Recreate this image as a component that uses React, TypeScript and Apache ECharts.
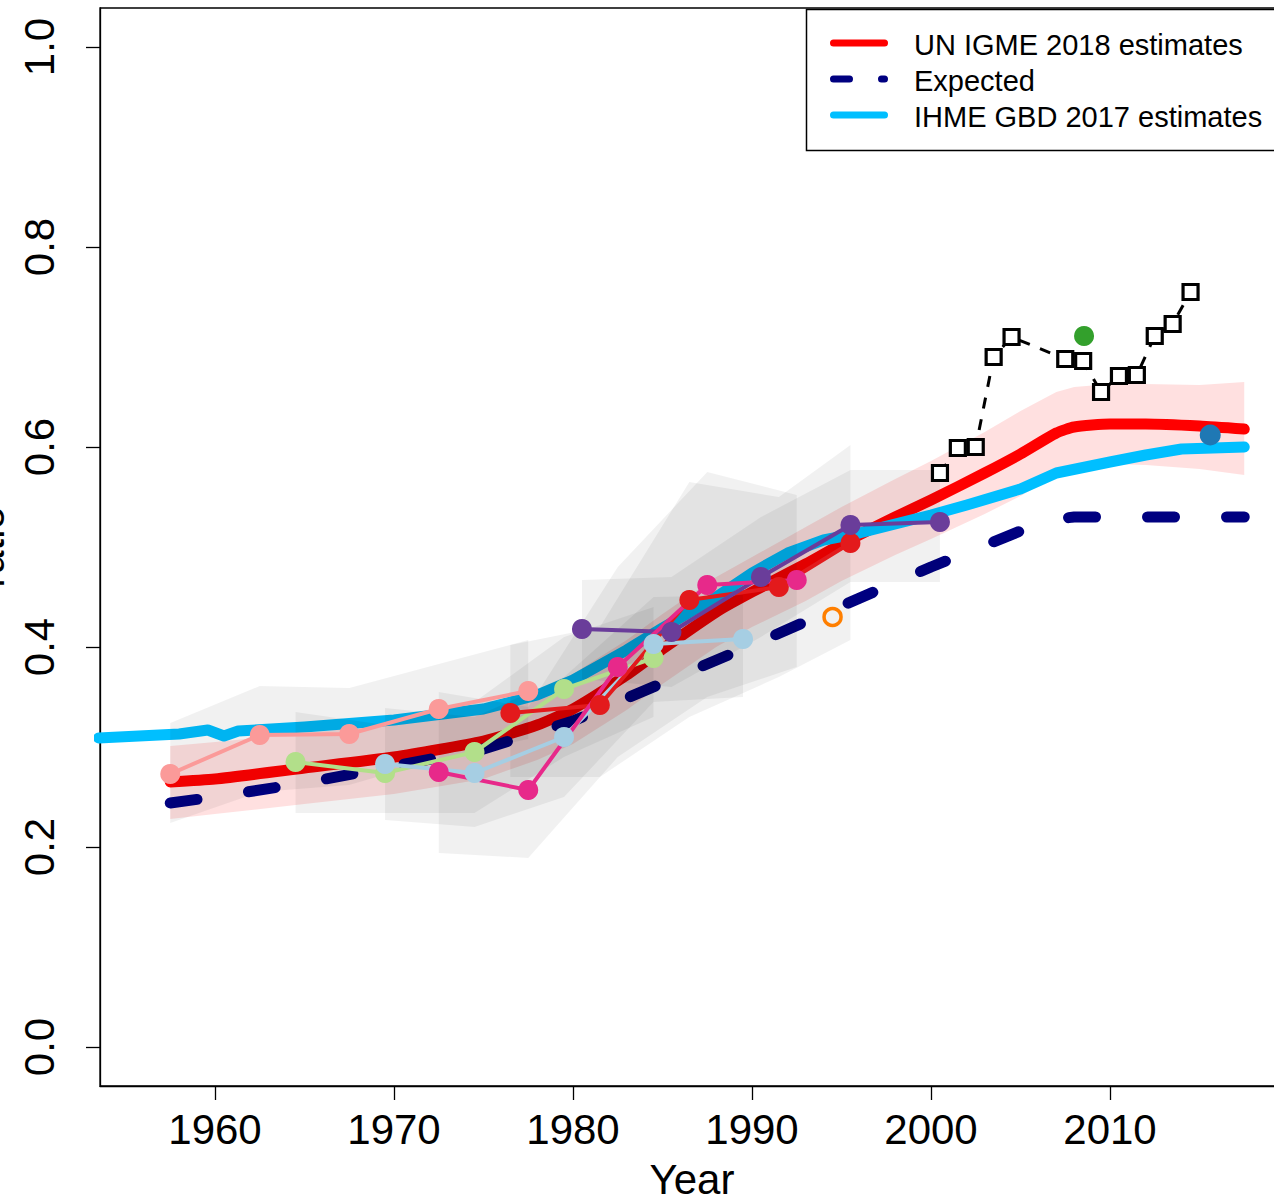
import React, { useEffect, useRef } from 'react';
import * as echarts from 'echarts';

const FONT = '"Liberation Sans", Arial, Helvetica, sans-serif';

// ---- Axis ticks ----
const xTicks = [1960, 1970, 1980, 1990, 2000, 2010];
const yTicks = [0, 0.2, 0.4, 0.6, 0.8, 1.0];

// ---- UN IGME 2018 estimates (with uncertainty band) ----
const igmeYears = [1957.5, 1960, 1965, 1970, 1975, 1978, 1980, 1983, 1985, 1988, 1990, 1993, 1995, 1998, 2000, 2003, 2005, 2007, 2008, 2010, 2012, 2015, 2017.5];
const igmeValues = [0.265, 0.268, 0.279, 0.290, 0.306, 0.322, 0.338, 0.372, 0.398, 0.435, 0.455, 0.483, 0.503, 0.530, 0.547, 0.574, 0.593, 0.614, 0.620, 0.623, 0.623, 0.621, 0.618];
const igmeUpper = [0.301, 0.305, 0.314, 0.323, 0.338, 0.357, 0.373, 0.407, 0.433, 0.470, 0.490, 0.520, 0.540, 0.568, 0.586, 0.615, 0.636, 0.655, 0.660, 0.663, 0.663, 0.662, 0.665];
const igmeLower = [0.228, 0.233, 0.243, 0.253, 0.268, 0.287, 0.303, 0.337, 0.363, 0.400, 0.420, 0.446, 0.466, 0.492, 0.508, 0.533, 0.551, 0.572, 0.579, 0.583, 0.582, 0.578, 0.572];

// ---- Expected ----
const expectedYears = [1957.5, 1960, 1965, 1970, 1975, 1980, 1985, 1990, 1995, 2000, 2005, 2007, 2008, 2017.5];
const expectedValues = [0.244, 0.250, 0.264, 0.281, 0.298, 0.326, 0.364, 0.402, 0.441, 0.480, 0.516, 0.528, 0.530, 0.530];

// ---- IHME GBD 2017 estimates ----
const ihmeYears = [1953.5, 1958, 1959.6, 1960.5, 1961.3, 1965, 1970, 1975, 1978, 1980, 1983, 1985, 1988, 1990, 1992, 1994, 1996, 2000, 2002, 2005, 2007, 2010, 2012, 2014, 2017.5];
const ihmeValues = [0.309, 0.313, 0.317, 0.311, 0.316, 0.320, 0.327, 0.338, 0.352, 0.367, 0.397, 0.419, 0.450, 0.474, 0.494, 0.507, 0.514, 0.532, 0.542, 0.558, 0.574, 0.585, 0.592, 0.598, 0.600];

// ---- Data sources (points + uncertainty polygons) ----
const salmonYears = [1957.5, 1962.5, 1967.5, 1972.5, 1977.5];
const salmonValues = [0.273, 0.312, 0.313, 0.338, 0.356];
const salmonUpper = [0.324, 0.361, 0.359, 0.383, 0.407];
const salmonLower = [0.224, 0.255, 0.262, 0.288, 0.308];

const greenYears = [1964.5, 1969.5, 1974.5, 1979.5, 1984.5];
const greenValues = [0.285, 0.274, 0.295, 0.358, 0.389];
const greenUpper = [0.335, 0.322, 0.345, 0.410, 0.440];
const greenLower = [0.234, 0.234, 0.234, 0.290, 0.330];

const lightBlueYears = [1969.5, 1974.5, 1979.5, 1984.5, 1989.5];
const lightBlueValues = [0.283, 0.274, 0.310, 0.403, 0.408];
const lightBlueUpper = [0.339, 0.330, 0.370, 0.450, 0.452];
const lightBlueLower = [0.227, 0.220, 0.250, 0.345, 0.350];

const magentaYears = [1972.5, 1977.5, 1982.5, 1987.5, 1992.5];
const magentaValues = [0.275, 0.257, 0.380, 0.462, 0.467];
const magentaUpper = [0.355, 0.340, 0.480, 0.575, 0.552];
const magentaLower = [0.194, 0.189, 0.290, 0.350, 0.380];

const redYears = [1976.5, 1981.5, 1986.5, 1991.5, 1995.5];
const redValues = [0.334, 0.342, 0.447, 0.460, 0.504];
const redUpper = [0.402, 0.420, 0.565, 0.550, 0.602];
const redLower = [0.270, 0.270, 0.330, 0.370, 0.407];

const purpleYears = [1980.5, 1985.5, 1990.5, 1995.5, 2000.5];
const purpleValues = [0.418, 0.415, 0.470, 0.522, 0.525];
const purpleUpper = [0.467, 0.470, 0.530, 0.577, 0.577];
const purpleLower = [0.368, 0.360, 0.410, 0.465, 0.465];

const vrYears = [2000.5, 2001.5, 2002.5, 2003.5, 2004.5, 2007.5, 2008.5, 2009.5, 2010.5, 2011.5, 2012.5, 2013.5, 2014.5];
const vrValues = [0.574, 0.599, 0.600, 0.690, 0.710, 0.688, 0.686, 0.655, 0.671, 0.672, 0.711, 0.723, 0.755];

const darkGreenPoint = [2008.55, 0.711];
const orangePoint = [1994.5, 0.430];
const bluePoint = [2015.6, 0.612];

const legendLabels = ['UN IGME 2018 estimates', 'Expected', 'IHME GBD 2017 estimates'];

const zip = (xs: number[], ys: number[]) => xs.map((x, i) => [x, ys[i]]);

const polygons = [
  { years: salmonYears, upper: salmonUpper, lower: salmonLower },
  { years: greenYears, upper: greenUpper, lower: greenLower },
  { years: lightBlueYears, upper: lightBlueUpper, lower: lightBlueLower },
  { years: magentaYears, upper: magentaUpper, lower: magentaLower },
  { years: redYears, upper: redUpper, lower: redLower },
  { years: purpleYears, upper: purpleUpper, lower: purpleLower },
];

function polySeries(polys: any[], fill: string, z: number) {
  return {
    type: 'custom',
    z,
    silent: true,
    clip: true,
    renderItem: (params: any, api: any) => {
      const p = polys[params.dataIndex];
      const pts: number[][] = [];
      for (let k = 0; k < p.years.length; k++) pts.push(api.coord([p.years[k], p.upper[k]]));
      for (let k = p.years.length - 1; k >= 0; k--) pts.push(api.coord([p.years[k], p.lower[k]]));
      return { type: 'polygon', shape: { points: pts }, style: { fill } };
    },
    data: polys.map((p) => [p.years[0], p.upper[0]]),
  };
}

function dataSeries(years: number[], values: number[], color: string) {
  return {
    type: 'line',
    z: 4,
    data: zip(years, values),
    symbol: 'circle',
    symbolSize: 20,
    showSymbol: true,
    itemStyle: { color, opacity: 1 },
    lineStyle: { color, width: 4 },
    emphasis: { disabled: true },
    silent: true,
  };
}

const X_MIN = 1960 - 115 / 17.9;
const X_MAX = X_MIN + 1184 / 17.9;

export default function App() {
  const ref = useRef<HTMLDivElement>(null);
  useEffect(() => {
    if (!ref.current) return;
    const chart = echarts.init(ref.current, undefined, { renderer: 'svg' });
    const legendY = [43, 79, 115];
    const option: any = {
      animation: false,
      backgroundColor: '#fff',
      textStyle: { fontFamily: FONT },
      grid: {
        left: 100, top: 8, right: -10, bottom: 115,
        show: true, borderColor: '#000', borderWidth: 1.3, backgroundColor: 'transparent',
        outerBoundsMode: 'none',
      },
      xAxis: {
        type: 'value', min: X_MIN, max: X_MAX,
        axisLine: { show: true, onZero: false, lineStyle: { color: '#000', width: 1.3 } },
        axisTick: { show: true, length: 14, customValues: xTicks, lineStyle: { color: '#000', width: 1.3 } },
        axisLabel: { customValues: xTicks, fontSize: 42, color: '#000', margin: 22, fontFamily: FONT, formatter: (v: number) => String(v) },
        splitLine: { show: false },
        name: 'Year', nameLocation: 'middle', nameGap: 72,
        nameTextStyle: { fontSize: 42, color: '#000', fontFamily: FONT },
      },
      yAxis: {
        type: 'value', min: -0.039, max: 1.039,
        axisLine: { show: true, onZero: false, lineStyle: { color: '#000', width: 1.3 } },
        axisTick: { show: true, length: 14, customValues: yTicks, lineStyle: { color: '#000', width: 1.3 } },
        axisLabel: { customValues: yTicks, fontSize: 42, color: '#000', margin: 40, rotate: 90, fontFamily: FONT, formatter: (v: number) => v.toFixed(1) },
        splitLine: { show: false },
        name: 'ratio', nameLocation: 'middle', nameGap: 82, nameRotate: 90,
        nameTextStyle: { fontSize: 42, color: '#000', fontFamily: FONT },
      },
      series: [
        polySeries([{ years: igmeYears, upper: igmeUpper, lower: igmeLower }], 'rgba(255,0,0,0.12)', 1),
        {
          type: 'line', z: 2, data: zip(igmeYears, igmeValues), showSymbol: false, symbol: 'none', smooth: 0.2,
          lineStyle: { color: '#FF0000', width: 11, cap: 'round', join: 'round' }, silent: true,
        },
        {
          type: 'line', z: 2, data: zip(expectedYears, expectedValues), showSymbol: false, symbol: 'none',
          lineStyle: { color: '#000080', width: 11, type: [27, 52], cap: 'round', join: 'round' }, silent: true,
        },
        {
          type: 'line', z: 2, data: zip(ihmeYears, ihmeValues), showSymbol: false, symbol: 'none',
          lineStyle: { color: '#00BFFF', width: 11, cap: 'round', join: 'round' }, silent: true,
        },
        polySeries(polygons, 'rgba(0,0,0,0.055)', 3),
        dataSeries(salmonYears, salmonValues, '#FB9A99'),
        dataSeries(greenYears, greenValues, '#B2DF8A'),
        dataSeries(lightBlueYears, lightBlueValues, '#A6CEE3'),
        dataSeries(redYears, redValues, '#E31A1C'),
        dataSeries(purpleYears, purpleValues, '#6A3D9A'),
        dataSeries(magentaYears, magentaValues, '#E7298A'),
        {
          type: 'line', z: 5, data: zip(vrYears, vrValues), symbol: 'rect', symbolSize: 15, showSymbol: true,
          itemStyle: { color: '#fff', borderColor: '#000', borderWidth: 3.2, opacity: 1 },
          lineStyle: { color: '#000', width: 3, type: [11, 11] }, silent: true,
        },
        {
          type: 'scatter', z: 5, data: [darkGreenPoint], symbol: 'circle', symbolSize: 20,
          itemStyle: { color: '#33A02C', opacity: 1 }, silent: true,
        },
        {
          type: 'scatter', z: 5, data: [orangePoint], symbol: 'circle', symbolSize: 17,
          itemStyle: { color: 'rgba(255,255,255,0)', borderColor: '#FF7F00', borderWidth: 3.5, opacity: 1 }, silent: true,
        },
        {
          type: 'scatter', z: 5, data: [bluePoint], symbol: 'circle', symbolSize: 21,
          itemStyle: { color: '#1F78B4', opacity: 1 }, silent: true,
        },
      ],
      graphic: [
        {
          type: 'rect', z: 100, shape: { x: 806.5, y: 9.5, width: 500, height: 141 },
          style: { fill: '#fff', stroke: '#000', lineWidth: 1.5 },
        },
        {
          type: 'line', z: 101, shape: { x1: 833.5, y1: legendY[0], x2: 884.5, y2: legendY[0] },
          style: { stroke: '#FF0000', lineWidth: 7, lineCap: 'round' },
        },
        {
          type: 'line', z: 101, shape: { x1: 833.5, y1: legendY[1], x2: 884.5, y2: legendY[1] },
          style: { stroke: '#000080', lineWidth: 7, lineCap: 'round', lineDash: [16, 32] },
        },
        {
          type: 'line', z: 101, shape: { x1: 833.5, y1: legendY[2], x2: 884.5, y2: legendY[2] },
          style: { stroke: '#00BFFF', lineWidth: 7, lineCap: 'round' },
        },
        ...legendLabels.map((t, i) => ({
          type: 'text', z: 101, x: 914, y: legendY[i] + 2,
          style: { text: t, fontSize: 29, fontFamily: FONT, fill: '#000', verticalAlign: 'middle', align: 'left' },
        })),
      ],
    };
    chart.setOption(option);
    return () => chart.dispose();
  }, []);
  return (
    <div
      ref={ref}
      style={{ position: 'fixed', left: 0, top: 0, width: 1274, height: 1201, background: '#fff' }}
    />
  );
}
